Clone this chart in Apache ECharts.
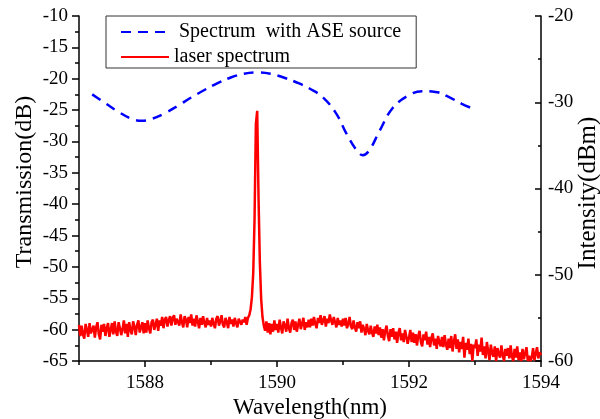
<!DOCTYPE html>
<html><head><meta charset="utf-8">
<script src="https://cdn.jsdelivr.net/npm/echarts@6/dist/echarts.min.js"></script>
<style>html,body{margin:0;padding:0;background:#fff}#c{width:600px;height:419px}</style>
</head><body><div id="c"></div>
<script>
// ASE spectrum (left axis, dB)
var aseWavelength = [1587.2,1587.4,1587.6,1587.8,1587.95,1588.1,1588.3,1588.5,1588.7,1588.9,1589.1,1589.3,1589.5,1589.7,1589.9,1590.1,1590.3,1590.5,1590.7,1590.9,1591.05,1591.2,1591.3,1591.4,1591.55,1591.75,1592.0,1592.2,1592.4,1592.6,1592.8,1592.93];
var aseTransmission = [-22.5,-23.9,-25.3,-26.4,-26.7,-26.4,-25.5,-24.3,-23.0,-21.8,-20.7,-19.8,-19.2,-19.0,-19.2,-19.8,-20.6,-21.6,-23.0,-25.6,-28.7,-31.3,-32.2,-31.4,-28.4,-24.7,-22.6,-22.0,-22.1,-22.9,-24.0,-24.6];
// Laser spectrum (right axis, dBm), sampled from 1587.00 nm every 0.02 nm
var laserStart = 1587.00, laserStep = 0.02;
var laserIntensity = [
-55.8,-57.1,-55.9,-56.9,-57.4,-55.7,-56.4,-57.2,-55.6,-56.8,-57.0,-55.9,-57.3,-56.1,-55.5,-56.9,-57.5,-55.8,-56.6,-55.7,-57.1,-56.2,-55.6,-57.2,-56.4,
-55.6,-56.9,-55.4,-56.6,-57.1,-55.5,-56.2,-57.0,-56.3,-55.3,-56.8,-55.7,-57.2,-55.5,-56.4,-56.9,-55.4,-56.0,-57.0,-55.8,-55.3,-56.7,-56.1,-55.5,-56.8,
-55.6,-56.7,-55.3,-56.2,-56.8,-55.5,-55.2,-56.4,-55.8,-55.1,-56.5,-55.3,-55.9,-54.9,-56.2,-55.2,-54.9,-56.0,-55.3,-54.8,-55.9,-55.0,-54.7,-55.8,-55.1,
-54.9,-55.9,-54.6,-55.5,-56.1,-54.8,-55.2,-56.1,-54.9,-55.6,-54.6,-55.9,-55.1,-56.0,-54.7,-55.4,-56.2,-55.0,-55.8,-54.8,-55.6,-56.1,-55.0,-55.8,-55.3,
-56.0,-55.0,-55.7,-56.2,-55.1,-54.8,-55.9,-55.4,-54.7,-55.8,-56.1,-55.0,-55.5,-56.2,-54.9,-55.7,-55.2,-56.0,-55.0,-55.6,-56.1,-55.1,-54.9,-55.8,-55.2,
-55.5,-54.9,-55.8,-55.0,-54.7,-54.0,-52.6,-49.8,-43.5,-32.5,-31.0,-41.0,-48.5,-52.8,-54.9,-55.9,-56.5,-55.4,-56.7,-55.6,-56.9,-55.7,-56.6,-55.3,-56.4,
-55.7,-56.7,-55.2,-56.1,-56.8,-55.4,-55.9,-56.6,-55.1,-56.2,-56.7,-55.6,-55.2,-56.4,-55.4,-56.6,-55.8,-55.1,-56.3,-55.7,-55.0,-56.4,-55.5,-56.1,-55.2,
-56.1,-55.1,-55.9,-54.9,-55.7,-56.2,-55.0,-55.6,-54.7,-55.8,-55.3,-54.8,-56.0,-55.1,-55.6,-54.6,-55.3,-55.8,-54.9,-55.5,-56.1,-55.0,-55.8,-55.3,-56.0,
-55.1,-55.9,-55.0,-56.2,-55.7,-54.9,-56.0,-56.3,-55.3,-56.1,-56.6,-55.5,-56.2,-55.4,-56.7,-55.8,-56.3,-57.0,-55.7,-56.5,-56.9,-55.9,-56.7,-57.2,-56.0,
-56.8,-55.8,-57.0,-56.1,-57.3,-56.3,-57.6,-56.5,-55.9,-57.1,-57.7,-56.3,-57.2,-56.2,-57.5,-56.6,-57.9,-56.7,-56.2,-57.6,-56.8,-57.8,-56.4,-57.2,-58.0,
-57.3,-56.4,-57.8,-56.7,-57.9,-56.9,-58.2,-57.1,-56.5,-57.8,-58.3,-56.9,-57.6,-56.6,-58.1,-57.2,-58.4,-57.3,-56.8,-58.2,-57.4,-58.6,-57.1,-57.8,-58.3,
-57.2,-58.4,-57.0,-58.1,-58.7,-57.4,-58.5,-57.1,-58.9,-57.7,-56.9,-58.6,-57.5,-59.0,-57.8,-58.6,-57.2,-59.6,-57.9,-58.7,-57.4,-59.2,-58.0,-60.0,-58.1,
-58.5,-57.5,-59.4,-58.1,-58.9,-57.3,-59.3,-58.3,-59.7,-57.8,-58.9,-59.9,-58.1,-59.1,-59.5,-58.3,-60.0,-58.5,-59.2,-59.6,-58.2,-59.3,-60.0,-58.6,-59.4,
-58.5,-59.7,-58.2,-59.5,-60.0,-58.6,-59.6,-58.3,-59.9,-59.0,-60.0,-58.6,-59.8,-59.1,-58.4,-60.0,-59.4,-60.0,-59.6,-58.5,-59.9,-60.0,-58.4,-59.7,-59.0,
-59.3];
var xMajorTicks = [1588,1590,1592,1594];
var xMinorTicks = [1587,1589,1591,1593];
var seriesNames = [' Spectrum  with ASE source', 'laser spectrum'];
var axisTitles = {x:'Wavelength(nm)', yLeft:'Transmission(dB)', yRight:'Intensity(dBm)'};

var laserData = laserIntensity.map(function(v,i){ return [Math.round((laserStart + i*laserStep)*100)/100, v]; });
var aseData = aseWavelength.map(function(w,i){ return [w, aseTransmission[i]]; });

var FONT = '"Liberation Serif","Times New Roman",serif';
var chart = echarts.init(document.getElementById('c'), null, {renderer:'canvas'});
var axisLine = {show:true, lineStyle:{color:'#000', width:1.5}};
var plain = function(v){ return String(v); };
var tickFont = {fontFamily:FONT, fontSize:19, fontWeight:'normal', color:'#000'};
chart.setOption({
  animation:false,
  backgroundColor:'#fff',
  textStyle:{fontFamily:FONT, color:'#000'},
  grid:{left:79, right:59, top:16, bottom:58, containLabel:false},
  legend:{
    orient:'vertical', left:106, top:16,
    padding:[6,15,1,14], itemGap:5, itemWidth:48, itemHeight:14,
    borderColor:'#333', borderWidth:1, backgroundColor:'#fff',
    itemStyle:{opacity:0},
    textStyle:{fontFamily:FONT, fontSize:20, color:'#000'},
    data:seriesNames
  },
  xAxis:[{
    type:'value', min:1587, max:1594, position:'bottom',
    axisLine:axisLine,
    axisTick:{show:true, length:6, customValues:xMajorTicks, lineStyle:{color:'#000', width:1.5}},
    axisLabel:Object.assign({show:true, customValues:xMajorTicks, formatter:plain, margin:13}, tickFont),
    splitLine:{show:false}
  },{
    type:'value', min:1587, max:1594, position:'bottom',
    axisLine:{show:false},
    axisTick:{show:true, length:4, customValues:xMinorTicks, lineStyle:{color:'#000', width:1.5}},
    axisLabel:{show:false},
    splitLine:{show:false}
  }],
  yAxis:[{
    type:'value', min:-65, max:-10, interval:5, position:'left',
    axisLine:axisLine,
    axisTick:{show:true, length:7, lineStyle:{color:'#000', width:1.5}},
    minorTick:{show:true, splitNumber:2, length:4, lineStyle:{color:'#000', width:1.5}},
    axisLabel:Object.assign({margin:11, formatter:plain}, tickFont),
    splitLine:{show:false}
  },{
    type:'value', min:-60, max:-20, interval:10, position:'right',
    axisLine:axisLine,
    axisTick:{show:true, inside:true, length:6, lineStyle:{color:'#000', width:1.5}},
    minorTick:{show:true, splitNumber:2, length:3, lineStyle:{color:'#000', width:1.5}},
    axisLabel:Object.assign({margin:7, formatter:plain}, tickFont),
    splitLine:{show:false}
  }],
  graphic:[
    {type:'text', x:310, y:408, style:{text:axisTitles.x, font:'23px '+FONT, fill:'#000', textAlign:'center', textVerticalAlign:'middle'}},
    {type:'text', x:25, y:182, rotation:Math.PI/2, style:{text:axisTitles.yLeft, font:'24px '+FONT, fill:'#000', textAlign:'center', textVerticalAlign:'middle'}},
    {type:'text', x:588, y:193, rotation:Math.PI/2, style:{text:axisTitles.yRight, font:'25px '+FONT, fill:'#000', textAlign:'center', textVerticalAlign:'middle'}}
  ],
  series:[{
    name:seriesNames[0], type:'line', xAxisIndex:0, yAxisIndex:0, data:aseData,
    smooth:0.4, showSymbol:false, symbol:'none',
    lineStyle:{color:'#0000FF', width:2.5, type:[10,7]}, itemStyle:{color:'#0000FF'}
  },{
    name:seriesNames[1], type:'line', xAxisIndex:0, yAxisIndex:1, data:laserData,
    showSymbol:false, symbol:'none', clip:true,
    lineStyle:{color:'#FF0000', width:2.5}, itemStyle:{color:'#FF0000'}
  }]
});
</script></body></html>
